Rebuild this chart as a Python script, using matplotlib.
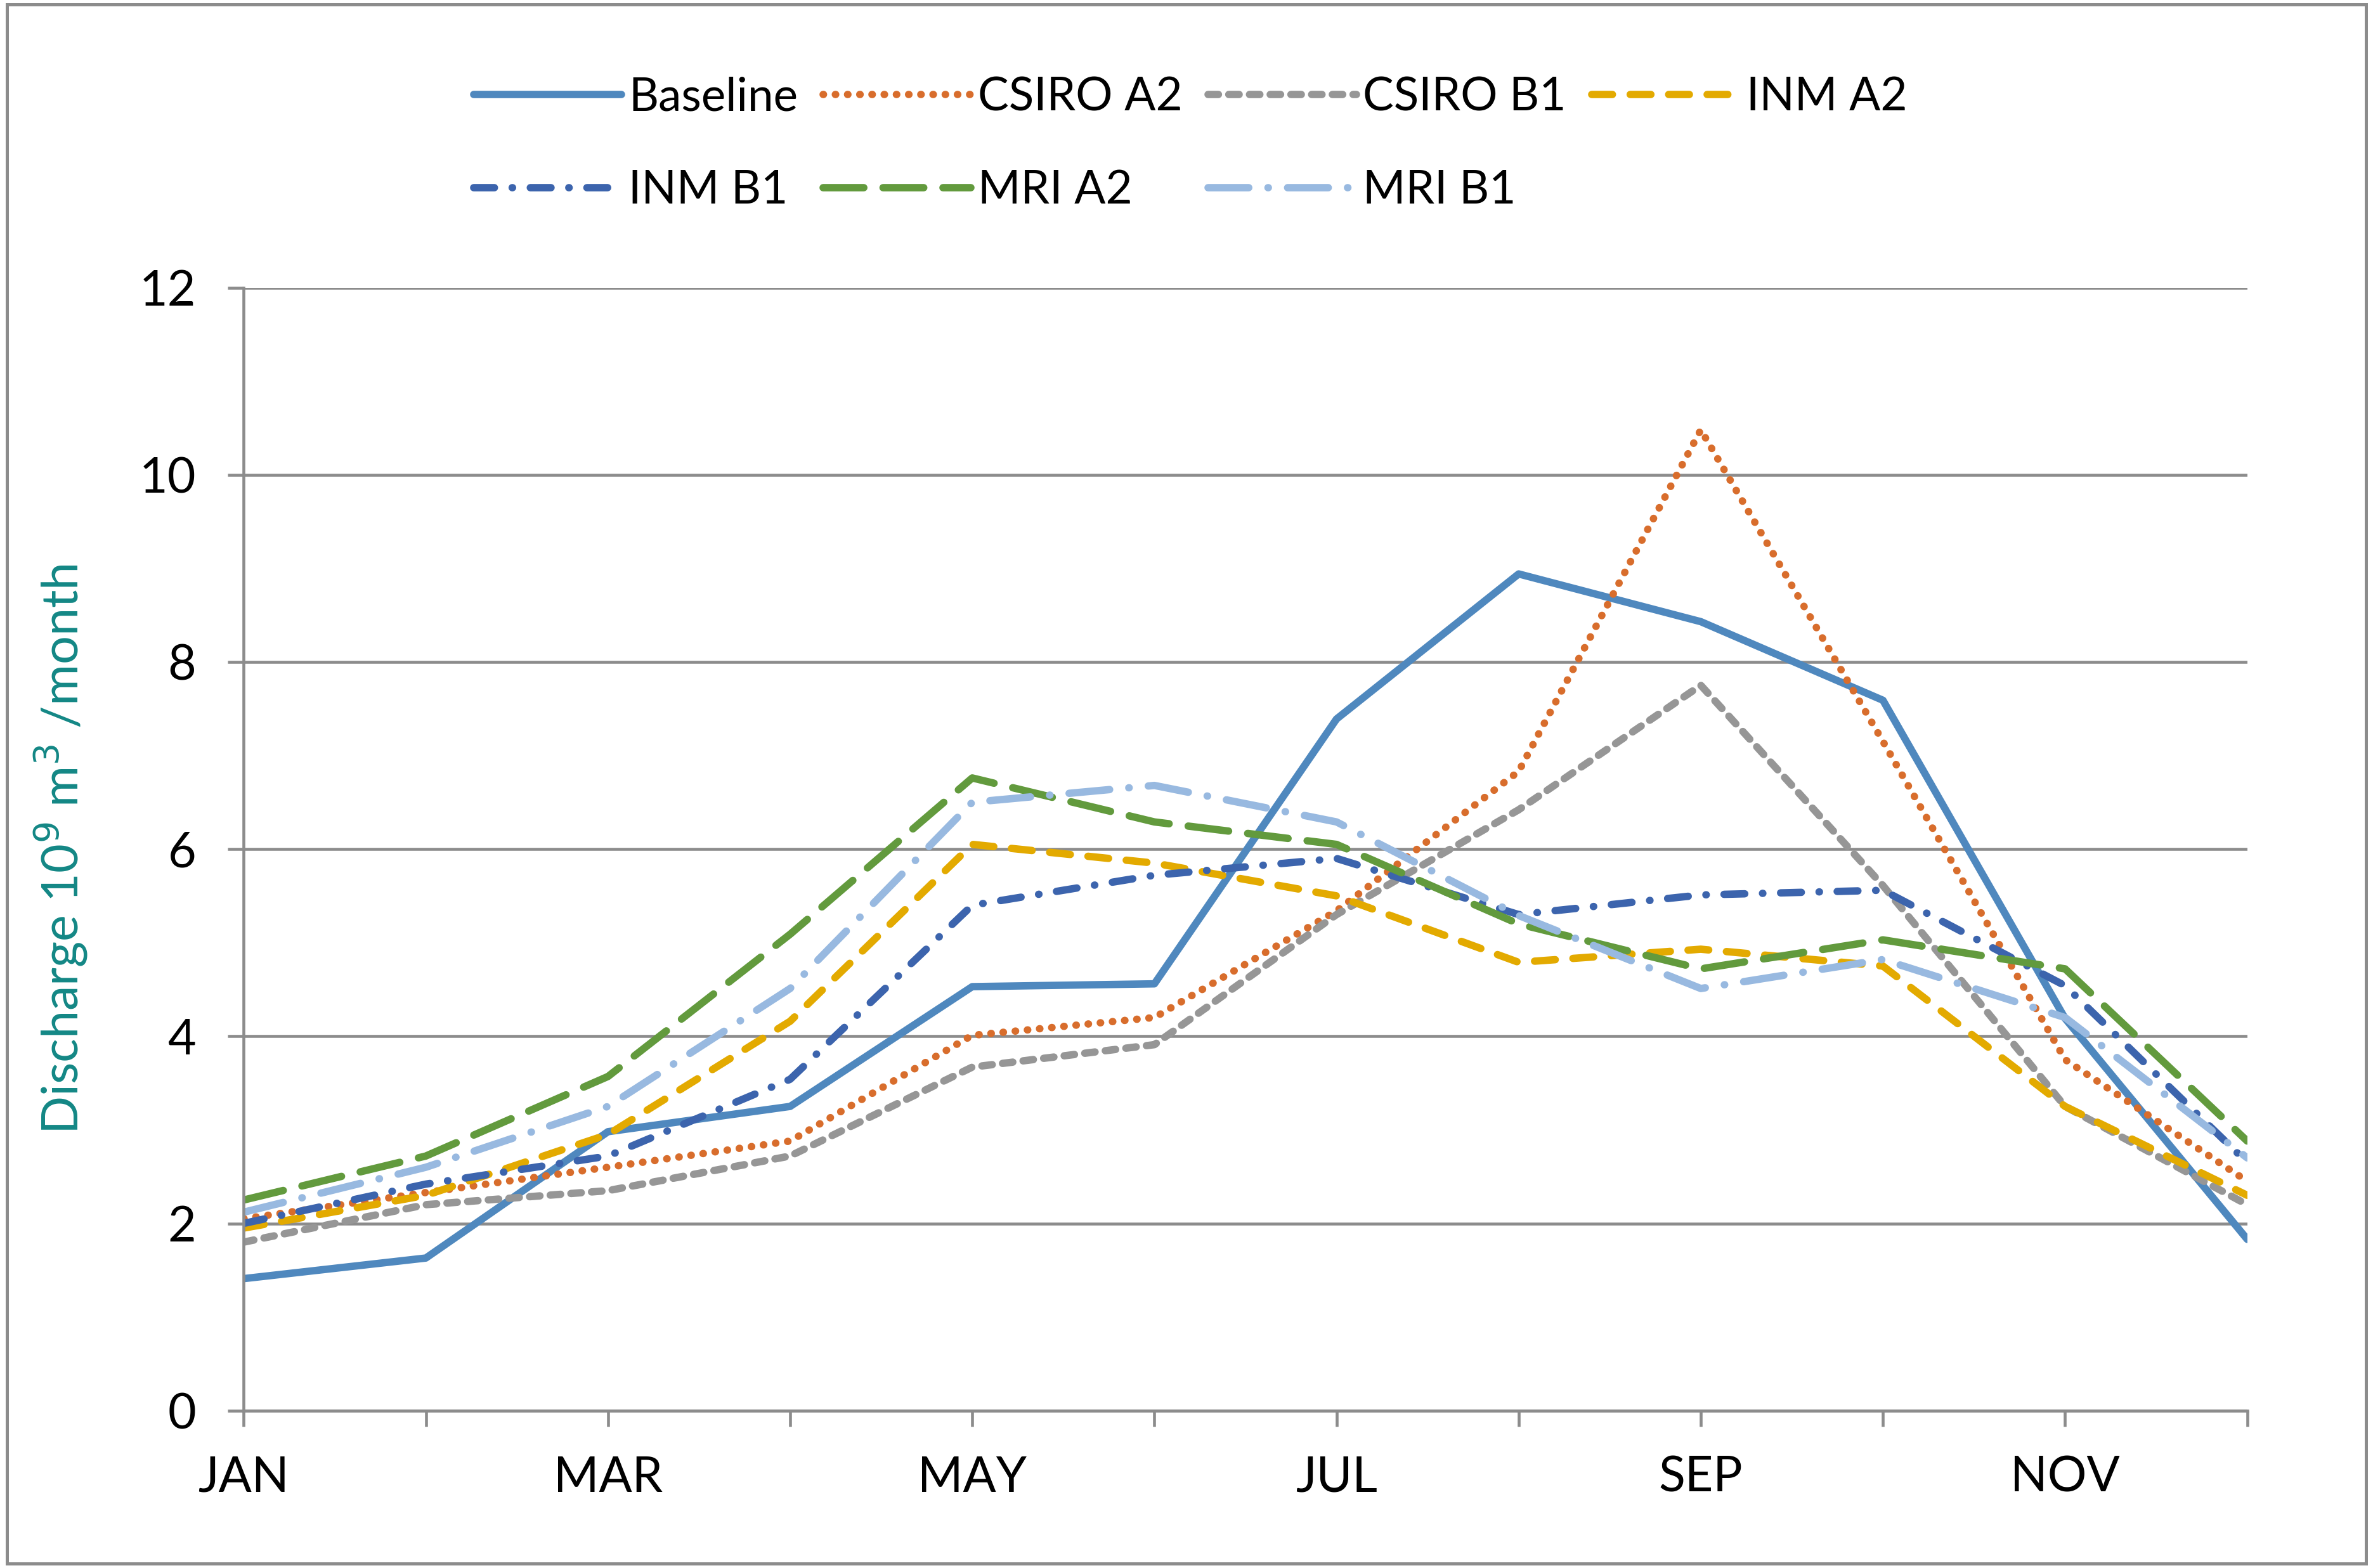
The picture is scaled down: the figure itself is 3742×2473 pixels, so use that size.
import matplotlib
matplotlib.use('Agg')
import matplotlib.pyplot as plt
from matplotlib.patches import Rectangle

months = ['JAN', 'FEB', 'MAR', 'APR', 'MAY', 'JUN', 'JUL', 'AUG', 'SEP', 'OCT', 'NOV', 'DEC']

baseline = [1.41, 1.63, 2.98, 3.25, 4.53, 4.56, 7.39, 8.94, 8.43, 7.59, 4.19, 1.83]
csiro_a2 = [2.05, 2.33, 2.60, 2.88, 4.01, 4.20, 5.34, 6.83, 10.48, 7.15, 3.75, 2.45]
csiro_b1 = [1.80, 2.20, 2.35, 2.72, 3.67, 3.91, 5.30, 6.42, 7.75, 5.61, 3.25, 2.20]
inm_a2 = [1.95, 2.30, 2.95, 4.16, 6.05, 5.85, 5.50, 4.79, 4.93, 4.75, 3.25, 2.30]
inm_b1 = [2.00, 2.42, 2.72, 3.54, 5.40, 5.72, 5.90, 5.30, 5.51, 5.56, 4.54, 2.65]
mri_a2 = [2.25, 2.72, 3.57, 5.09, 6.76, 6.29, 6.05, 5.20, 4.72, 5.03, 4.72, 2.88]
mri_b1 = [2.12, 2.60, 3.25, 4.51, 6.50, 6.68, 6.29, 5.29, 4.51, 4.82, 4.20, 2.70]

plt.rcParams['font.family'] = ['Lato', 'DejaVu Sans']

fig = plt.figure(figsize=(3742 / 300, 2473 / 300), dpi=300)
ax = fig.add_axes([0.1027, 0.1004, 0.8443, 0.7162])

x = range(len(months))
lw = 2.8
lines = {}
lines['Baseline'] = ax.plot(x, baseline, color='#4f88be', lw=lw, solid_capstyle='round')[0]
lines['CSIRO A2'] = ax.plot(x, csiro_a2, color='#d86d2c', lw=lw, ls=(0, (0.05, 1.6)), dash_capstyle='round')[0]
lines['CSIRO B1'] = ax.plot(x, csiro_b1, color='#969696', lw=lw, ls=(0, (1.4, 1.4)), dash_capstyle='round')[0]
lines['INM A2'] = ax.plot(x, inm_a2, color='#e3aa00', lw=lw, ls=(0, (2.8, 2.4)), dash_capstyle='round')[0]
lines['INM B1'] = ax.plot(x, inm_b1, color='#3c64ad', lw=lw, ls=(0, (2.8, 2.4, 0.05, 2.4)), dash_capstyle='round')[0]
lines['MRI A2'] = ax.plot(x, mri_a2, color='#629a3d', lw=lw, ls=(0, (5.5, 2.6)), dash_capstyle='round')[0]
lines['MRI B1'] = ax.plot(x, mri_b1, color='#98b9e0', lw=lw, ls=(0, (5.5, 2.6, 0.05, 2.6)), dash_capstyle='round')[0]

ax.set_xlim(0, 11)
ax.set_ylim(0, 12)
ax.set_xticks(list(x))
ax.set_xticklabels([m if i % 2 == 0 else '' for i, m in enumerate(months)])
ax.set_yticks(range(0, 13, 2))
ax.yaxis.grid(True, color='#8c8c8c', lw=1.1)
ax.set_axisbelow(True)
for s in ['top', 'right']:
    ax.spines[s].set_visible(False)
for s in ['left', 'bottom']:
    ax.spines[s].set_color('#8c8c8c')
    ax.spines[s].set_linewidth(1.1)
ax.tick_params(axis='both', colors='#8c8c8c', labelcolor='black', labelsize=18.5,
               length=6, width=1.1, direction='out')
ax.tick_params(axis='x', pad=11)
ax.tick_params(axis='y', pad=12)
ax.set_ylabel('Discharge 10$^9$ m$^3$ /month', color='#138785', fontsize=19, labelpad=19)

# legend in row order like the original
order = ['Baseline', 'INM B1', 'CSIRO A2', 'MRI A2', 'CSIRO B1', 'MRI B1', 'INM A2']
fig.legend([lines[k] for k in order], order, loc='upper left', bbox_to_anchor=(0.182, 0.978),
           ncol=4, frameon=False, fontsize=17.5, handlelength=3.2, handletextpad=0.15,
           columnspacing=0.55, labelspacing=1.1)

fig.patches.append(Rectangle((0.003, 0.003), 0.994, 0.994, transform=fig.transFigure,
                             fill=False, edgecolor='#8c8c8c', lw=1.2))

plt.savefig('out.png', dpi=300)
